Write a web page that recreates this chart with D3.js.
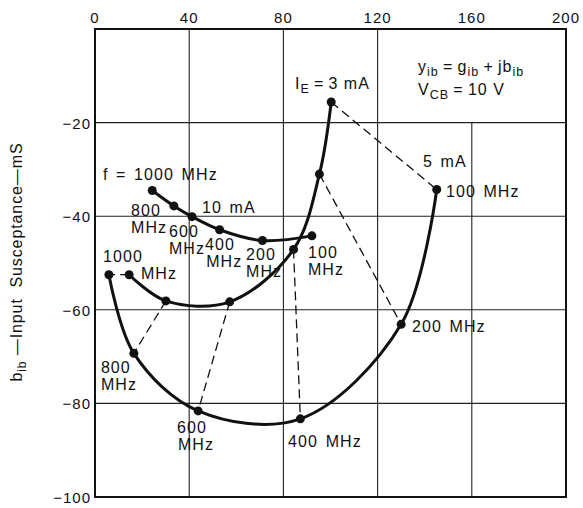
<!DOCTYPE html>
<html>
<head>
<meta charset="utf-8">
<script src="https://cdn.jsdelivr.net/npm/d3@7"></script>
<style>
  html, body { margin: 0; padding: 0; background: #fff; }
  svg { display: block; }
  text { font-family: "Liberation Sans", Arial, Helvetica, sans-serif; fill: #111; }
</style>
</head>
<body>
<svg id="chart" width="583" height="508"></svg>
<script>
// Input admittance y_ib = g_ib + j b_ib of a common-base transistor (V_CB = 10 V)
const frequencies = [100, 200, 400, 600, 800, 1000];       // MHz
const xTicks = [0, 40, 80, 120, 160, 200];                   // g_ib (mS)
const yTicks = [-20, -40, -60, -80, -100];                   // b_ib (mS)

// I_E = 3 mA
const g3mA = [100.3, 95.3, 84.3, 57.2, 30.1, 14.5];
const b3mA = [-15.6, -31.0, -47.1, -58.3, -58.1, -52.5];
// I_E = 5 mA
const g5mA = [145.1, 130.0, 87.2, 43.8, 16.5, 5.9];
const b5mA = [-34.3, -63.1, -83.3, -81.6, -69.3, -52.5];
// I_E = 10 mA
const g10mA = [92.1, 71.1, 52.9, 41.2, 33.5, 24.3];
const b10mA = [-44.2, -45.2, -42.9, -40.1, -37.8, -34.5];

const svg = d3.select("#chart");
const x = d3.scaleLinear().domain([0, 200]).range([95, 566]);
const y = d3.scaleLinear().domain([-100, 0]).range([497, 29]);

const zip = (gs, bs) => gs.map((g, i) => ({ g, b: bs[i], f: frequencies[i] }));
const curves = [zip(g3mA, b3mA), zip(g5mA, b5mA), zip(g10mA, b10mA)];

// grid
const grid = svg.append("g").attr("stroke", "#222").attr("stroke-width", 1.1);
[40, 80, 120].forEach(v => grid.append("line")
  .attr("x1", x(v)).attr("x2", x(v)).attr("y1", y(0)).attr("y2", y(-100)));
// the 160 line stops at -20, leaving the top-right corner for the legend text
grid.append("line").attr("x1", x(160)).attr("x2", x(160)).attr("y1", y(-20)).attr("y2", y(-100));
[-20, -40, -60, -80].forEach(v => grid.append("line")
  .attr("x1", x(0)).attr("x2", x(200)).attr("y1", y(v)).attr("y2", y(v)));

// frame
svg.append("rect")
  .attr("x", x(0)).attr("y", y(0))
  .attr("width", x(200) - x(0)).attr("height", y(-100) - y(0))
  .attr("fill", "none").attr("stroke", "#111").attr("stroke-width", 2);

// top axis labels
svg.append("g").selectAll("text").data(xTicks).join("text")
  .attr("x", d => x(d)).attr("y", y(0) - 6)
  .attr("text-anchor", "middle").attr("font-size", 15).attr("letter-spacing", 1)
  .text(d => d);

// left axis labels
svg.append("g").selectAll("text").data(yTicks).join("text")
  .attr("x", x(0) - 4).attr("y", d => y(d) + 6)
  .attr("text-anchor", "end").attr("font-size", 15).attr("letter-spacing", 1)
  .text(d => "\u2212" + Math.abs(d));

// axis title
const yt = svg.append("text")
  .attr("transform", `translate(22, 262) rotate(-90)`)
  .attr("text-anchor", "middle").attr("font-size", 16).attr("letter-spacing", 0.9)
  .attr("xml:space", "preserve");
yt.append("tspan").text("b");
yt.append("tspan").attr("font-size", 12).attr("dy", 4).text("ib");
yt.append("tspan").attr("dy", -4).text(" \u2014Input  Susceptance\u2014mS");

// equal-frequency connectors between the 3 mA and 5 mA loci
svg.append("g").selectAll("line").data(frequencies).join("line")
  .attr("x1", (d, i) => x(g3mA[i])).attr("y1", (d, i) => y(b3mA[i]))
  .attr("x2", (d, i) => x(g5mA[i])).attr("y2", (d, i) => y(b5mA[i]))
  .attr("stroke", "#111").attr("stroke-width", 1.3).attr("stroke-dasharray", "9,5");

// loci
const line = d3.line().x(d => x(d.g)).y(d => y(d.b)).curve(d3.curveCatmullRom.alpha(0.5));
svg.append("g").selectAll("path").data(curves).join("path")
  .attr("d", line).attr("fill", "none").attr("stroke", "#111").attr("stroke-width", 3);

// measured points
svg.append("g").selectAll("circle").data(curves.flat()).join("circle")
  .attr("cx", d => x(d.g)).attr("cy", d => y(d.b)).attr("r", 4.5)
  .attr("fill", "#111");

// annotations (anchored in data units)
const labels = [
  ["f = 1000 MHz", 3.4, -32.3],
  ["800", 15.3, -40.0], ["MHz", 15.3, -43.6],
  ["600", 31.4, -44.5], ["MHz", 31.4, -48.1],
  ["400", 46.7, -47.3], ["MHz", 47.2, -50.9],
  ["200", 64.1, -49.4], ["MHz", 64.1, -53.0],
  ["100", 90.4, -48.9], ["MHz", 90.4, -52.6],
  ["10 mA", 45.4, -39.3],
  ["1000", 3.4, -49.8], ["MHz", 19.5, -53.4],
  ["800", 2.5, -73.5], ["MHz", 2.5, -77.1],
  ["600", 34.8, -86.3], ["MHz", 35.2, -90.0],
  ["400 MHz", 82.0, -89.3],
  ["200 MHz", 134.6, -64.7],
  ["100 MHz", 149.0, -35.9],
  ["5 mA", 139.3, -29.5]
];
svg.append("g").selectAll("text").data(labels).join("text")
  .attr("x", d => x(d[1])).attr("y", d => y(d[2]))
  .attr("font-size", 16).attr("letter-spacing", 1.1).attr("word-spacing", 2)
  .text(d => d[0]);

function subText(parts, gx, gb) {
  const t = svg.append("text").attr("x", x(gx)).attr("y", y(gb))
    .attr("font-size", 16).attr("letter-spacing", 1)
    .attr("xml:space", "preserve");
  let lowered = false;
  parts.forEach(([s, sub]) => {
    const ts = t.append("tspan").text(s);
    if (sub) { ts.attr("font-size", 12.5).attr("dy", lowered ? 0 : 4); lowered = true; }
    else { ts.attr("dy", lowered ? -4 : 0); lowered = false; }
  });
}
subText([["I"], ["E", true], ["\u2009=\u20093 mA"]], 84.9, -12.8);
subText([["y"], ["ib", true], ["\u2009=\u2009g"], ["ib", true], ["\u2009+\u2009jb"], ["ib", true]], 137.2, -9.2);
subText([["V"], ["CB", true], ["\u2009=\u200910 V"]], 137.2, -14.1);
</script>
</body>
</html>
